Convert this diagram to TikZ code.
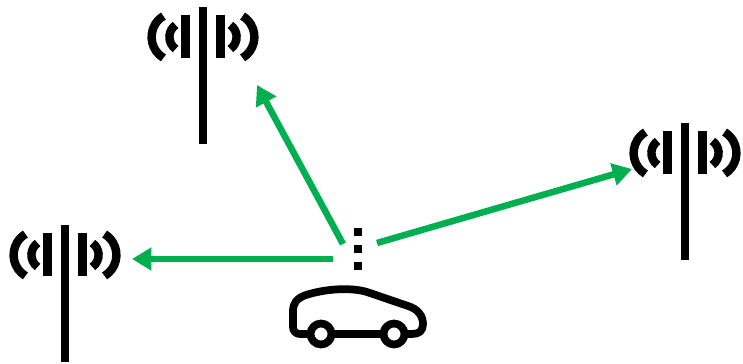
\documentclass[tikz,border=0pt]{standalone}
\usepackage{tikz}
\usetikzlibrary{arrows.meta}
\definecolor{linkgreen}{RGB}{0,176,80}
\tikzset{
  link/.style={linkgreen,line width=3.7pt,-{Triangle[length=11pt,width=12.5pt]}},
  mast/.style={line width=4.9pt},
  wave/.style={line width=4.8pt},
  carline/.style={line width=4.4pt,line join=round},
  tower/.pic={
    \draw[mast] (0,0) -- (0,137);
    \draw[mast] (-17.5,8) -- (-17.5,51);
    \draw[mast] (17.5,8) -- (17.5,51);
    % inner and outer waves
    \draw[wave] (-19,30) ++(125:14.6) arc[start angle=125,end angle=235,radius=14.6];
    \draw[wave] (19,30) ++(55:14.6) arc[start angle=55,end angle=-55,radius=14.6];
    \draw[wave] (-27,30) ++(121:24.4) arc[start angle=121,end angle=239,radius=24.4];
    \draw[wave] (27,30) ++(59:24.4) arc[start angle=59,end angle=-59,radius=24.4];
  }
}

\begin{document}
\begin{tikzpicture}[x=0.02cm,y=-0.02cm]
\useasboundingbox (0,0) rectangle (743,364);

\pic at (203,7) {tower};
\pic at (685,123) {tower};
\pic at (65,225) {tower};

% signal dots
\foreach \y in {232,249,266}
  \fill (353.5,\y-4.25) rectangle (362,\y+4.25);

\coordinate (startA) at (343,244);
\coordinate (startB) at (377,243);
\coordinate (startC) at (333,259);
\coordinate (towerA) at (257,85);
\coordinate (towerB) at (632,169);
\coordinate (towerC) at (132,259);
\draw[link] (startA) -- (towerA);
\draw[link] (startB) -- (towerB);
\draw[link] (startC) -- (towerC);

% car
\draw[carline] (311,334) -- (300,334)
  .. controls (296,334) and (293,331) .. (293,327) -- (293,311)
  .. controls (293,303) and (297,298) .. (306,295)
  .. controls (325,289) and (350,287) .. (367,292) -- (408,306)
  .. controls (418,309) and (423,316) .. (423,324)
  .. controls (423,331) and (419,334) .. (412,334) -- (405,334);
\draw[carline] (331,334) -- (384,334);
\draw[carline] (321,334) circle (10.5);
\draw[carline] (394,334) circle (10.5);
\end{tikzpicture}
\end{document}
